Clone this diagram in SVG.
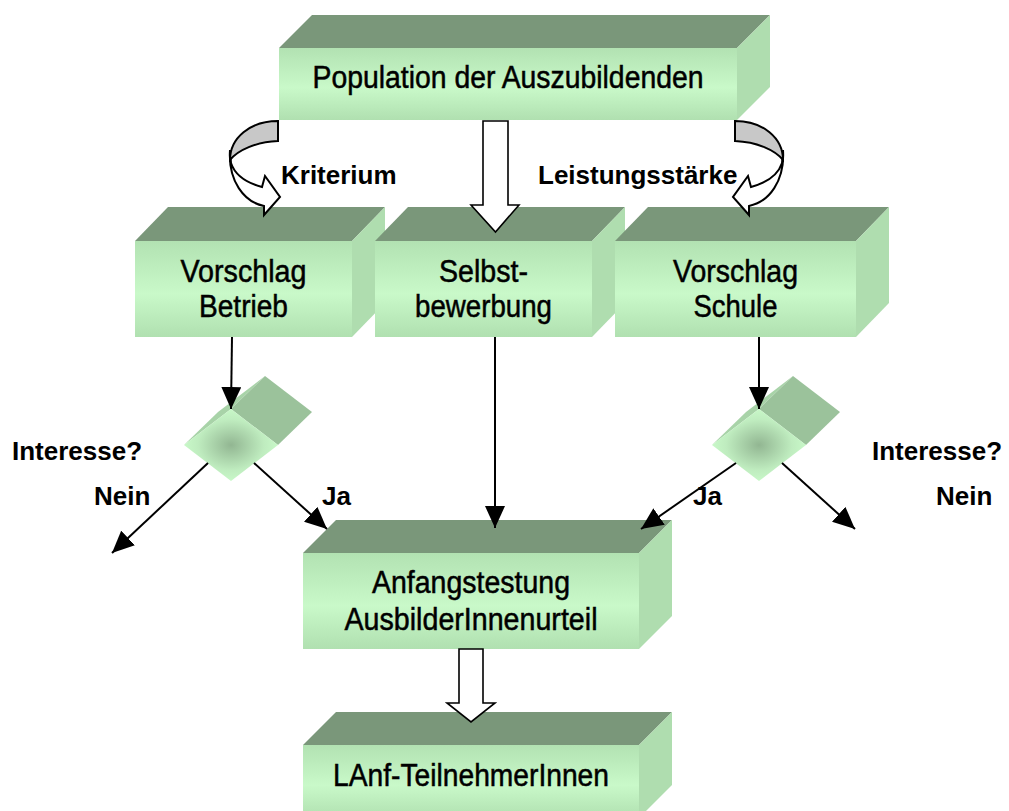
<svg xmlns="http://www.w3.org/2000/svg" width="1009" height="811" viewBox="0 0 1009 811">
<defs>
<linearGradient id="front" x1="0" y1="0" x2="0" y2="1">
<stop offset="0" stop-color="#b2e2b2"/>
<stop offset="0.55" stop-color="#c9f9c9"/>
<stop offset="1" stop-color="#b0e0b0"/>
</linearGradient>
<radialGradient id="dia" cx="0.5" cy="0.5" r="0.5">
<stop offset="0" stop-color="#92b692"/>
<stop offset="0.7" stop-color="#bfecbf"/>
<stop offset="1" stop-color="#c8f8c8"/>
</radialGradient>
<marker id="ah" markerUnits="userSpaceOnUse" markerWidth="22" markerHeight="20" refX="22" refY="10" orient="auto" viewBox="0 0 22 20">
<path d="M0,0 L22,10 L0,20 Z" fill="#000"/>
</marker>
</defs>
<style>
.top{fill:#7a977a}
.side{fill:#afddaf}
.front{fill:url(#front)}
.bt{font-family:"Liberation Sans",Arial,sans-serif;font-size:31px;fill:#000;stroke:#000;stroke-width:0.5;text-anchor:middle}
.lb{font-family:"Liberation Sans",Arial,sans-serif;font-size:26px;font-weight:bold;fill:#000}
.dtop{fill:#9bc29b}
.dleft{fill:#a8d3a8}
.dfront{fill:url(#dia)}
.ln{stroke:#000;stroke-width:2;fill:none;marker-end:url(#ah)}
.hollow{fill:#fff;stroke:#000;stroke-width:1.6}
.curveg{fill:#c8c8c8;stroke:#000;stroke-width:2}
.curvew{fill:#fff;stroke:#000;stroke-width:2}
</style>

<g id="node-population">
<polygon class="top" points="279,48 312,15 770,15 737,48"/>
<polygon class="side" points="737,48 770,15 770,87 737,120"/>
<rect class="front" x="279" y="48" width="458" height="72"/>
<text class="bt" x="508" y="88" textLength="391" lengthAdjust="spacingAndGlyphs">Population der Auszubildenden</text>
</g>

<g id="node-betrieb">
<polygon class="top" points="135,241 168,207 385,207 352,241"/>
<polygon class="side" points="352,241 385,207 385,303 352,337"/>
<rect class="front" x="135" y="241" width="217" height="96"/>
<text class="bt" x="243.5" y="282" textLength="126" lengthAdjust="spacingAndGlyphs">Vorschlag</text>
<text class="bt" x="243.5" y="317" textLength="89" lengthAdjust="spacingAndGlyphs">Betrieb</text>
</g>

<g id="node-selbst">
<polygon class="top" points="375,241 408,207 625,207 592,241"/>
<polygon class="side" points="592,241 625,207 625,303 592,337"/>
<rect class="front" x="375" y="241" width="217" height="96"/>
<text class="bt" x="483.5" y="282" textLength="89" lengthAdjust="spacingAndGlyphs">Selbst-</text>
<text class="bt" x="483.5" y="317" textLength="137" lengthAdjust="spacingAndGlyphs">bewerbung</text>
</g>

<g id="node-schule">
<polygon class="top" points="615,241 648,207 889,207 856,241"/>
<polygon class="side" points="856,241 889,207 889,303 856,337"/>
<rect class="front" x="615" y="241" width="241" height="96"/>
<text class="bt" x="735.5" y="282" textLength="125" lengthAdjust="spacingAndGlyphs">Vorschlag</text>
<text class="bt" x="735.5" y="317" textLength="84" lengthAdjust="spacingAndGlyphs">Schule</text>
</g>

<g id="node-decision-left">
<polygon class="dleft" points="184,445 218,412 265,376 231,409"/>
<polygon class="dtop" points="231,409 265,376 312,412 278,445"/>
<polygon class="dfront" points="231,409 278,445 231,481 184,445"/>
</g>

<g id="node-decision-right">
<polygon class="dleft" points="712,445 746,412 793,376 759,409"/>
<polygon class="dtop" points="759,409 793,376 840,412 806,445"/>
<polygon class="dfront" points="759,409 806,445 759,481 712,445"/>
</g>

<g id="node-anfang">
<polygon class="top" points="303,553 336,520 672,520 639,553"/>
<polygon class="side" points="639,553 672,520 672,616 639,649"/>
<rect class="front" x="303" y="553" width="336" height="96"/>
<text class="bt" x="471" y="593" textLength="198" lengthAdjust="spacingAndGlyphs">Anfangstestung</text>
<text class="bt" x="471" y="630" textLength="253" lengthAdjust="spacingAndGlyphs">AusbilderInnenurteil</text>
</g>

<g id="node-lanf">
<polygon class="top" points="303,745 336,712 672,712 639,745"/>
<polygon class="side" points="639,745 672,712 672,785 639,818"/>
<rect class="front" x="303" y="745" width="336" height="73"/>
<text class="bt" x="471" y="786" textLength="276" lengthAdjust="spacingAndGlyphs">LAnf-TeilnehmerInnen</text>
</g>

<g id="connectors">
<g id="curve-left">
<path class="curvew" d="M230,150 C228,181 244,202 264,206 L264,215 L280,197 L265,176 L262,187 C247,183 235,175 231,163 Z"/>
<path class="curveg" d="M278,121 C250,121 230,138 230,160 C238,150 256,142 278,141 Z"/>
</g>
<g id="curve-right" transform="matrix(-1,0,0,1,1013,0)">
<path class="curvew" d="M230,150 C228,181 244,202 264,206 L264,215 L280,197 L265,176 L262,187 C247,183 235,175 231,163 Z"/>
<path class="curveg" d="M278,121 C250,121 230,138 230,160 C238,150 256,142 278,141 Z"/>
</g>
<path class="hollow" d="M483,121 L508,121 L508,205 L519,205 L495.5,232 L471,205 L483,205 Z"/>
<path class="hollow" d="M459,649 L483,649 L483,703 L495,703 L471,722 L447,703 L459,703 Z"/>
<line class="ln" x1="232" y1="337" x2="231" y2="409"/>
<line class="ln" x1="759" y1="337" x2="759" y2="409"/>
<line class="ln" x1="495" y1="337" x2="495" y2="528"/>
<line class="ln" x1="208" y1="463" x2="112" y2="553"/>
<line class="ln" x1="254" y1="463" x2="327" y2="529"/>
<line class="ln" x1="736" y1="463" x2="641" y2="529"/>
<line class="ln" x1="782" y1="463" x2="855" y2="529"/>
</g>

<g id="labels">
<text class="lb" x="281" y="184">Kriterium</text>
<text class="lb" x="538" y="184">Leistungsstärke</text>
<text class="lb" x="12" y="460">Interesse?</text>
<text class="lb" x="872" y="460">Interesse?</text>
<text class="lb" x="94" y="505">Nein</text>
<text class="lb" x="322" y="505">Ja</text>
<text class="lb" x="693" y="505">Ja</text>
<text class="lb" x="936" y="505">Nein</text>
</g>
</svg>
